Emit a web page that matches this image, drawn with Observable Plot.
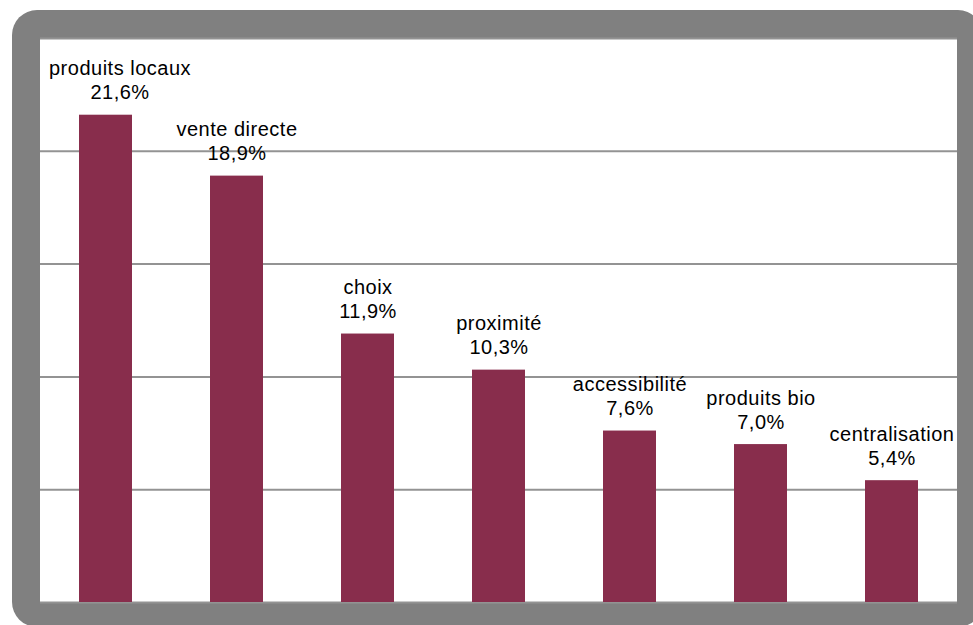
<!DOCTYPE html>
<html>
<head>
<meta charset="utf-8">
<script src="https://cdn.jsdelivr.net/npm/d3@7"></script>
<script src="https://cdn.jsdelivr.net/npm/@observablehq/plot@0.6"></script>
<style>
  html, body { margin: 0; padding: 0; background: #ffffff; overflow: hidden; }
  #frame { position: absolute; left: 12px; top: 10px; width: 971px; height: 617px; background: #808080; border-radius: 25px; }
  #chart { position: absolute; left: 40px; top: 38px; width: 917px; height: 564px; background: #ffffff; }
</style>
</head>
<body>
<div id="frame"></div>
<div id="chart"></div>
<script>
const categories = ["produits locaux", "vente directe", "choix", "proximité", "accessibilité", "produits bio", "centralisation"];
const values = [21.6, 18.9, 11.9, 10.3, 7.6, 7.0, 5.4];
const gridTicks = [5, 10, 15, 20, 25];

const data = categories.map((c, i) => ({
  category: c,
  value: values[i],
  label: c + "\n" + values[i].toFixed(1).replace(".", ",") + "%"
}));

const textOpts = {
  x: "category",
  y: "value",
  text: "label",
  lineAnchor: "bottom",
  lineHeight: 1.2,
  dy: -16,
  fontSize: 20,
  fill: "#000000"
};

const chart = Plot.plot({
  width: 917,
  height: 564,
  marginTop: 0,
  marginRight: 0,
  marginBottom: 0,
  marginLeft: 0,
  style: {
    background: "#ffffff",
    fontFamily: "'Liberation Sans', Arial, sans-serif",
    letterSpacing: "0.5px",
    overflow: "visible"
  },
  x: { domain: categories, paddingInner: 0.595, paddingOuter: 0.2975, axis: null },
  y: { domain: [0, 25], axis: null },
  marks: [
    Plot.ruleY(gridTicks, { stroke: "#939393", strokeWidth: 2 }),
    Plot.ruleY([0], { stroke: "#939393", strokeWidth: 2 }),
    Plot.barY(data, { x: "category", y: "value", fill: "#882D4C" }),
    // first label is nudged right so it stays inside the plot area
    Plot.text(data.slice(0, 1), { ...textOpts, dx: 14 }),
    Plot.text(data.slice(1), textOpts)
  ]
});
document.getElementById("chart").appendChild(chart);
</script>
</body>
</html>
